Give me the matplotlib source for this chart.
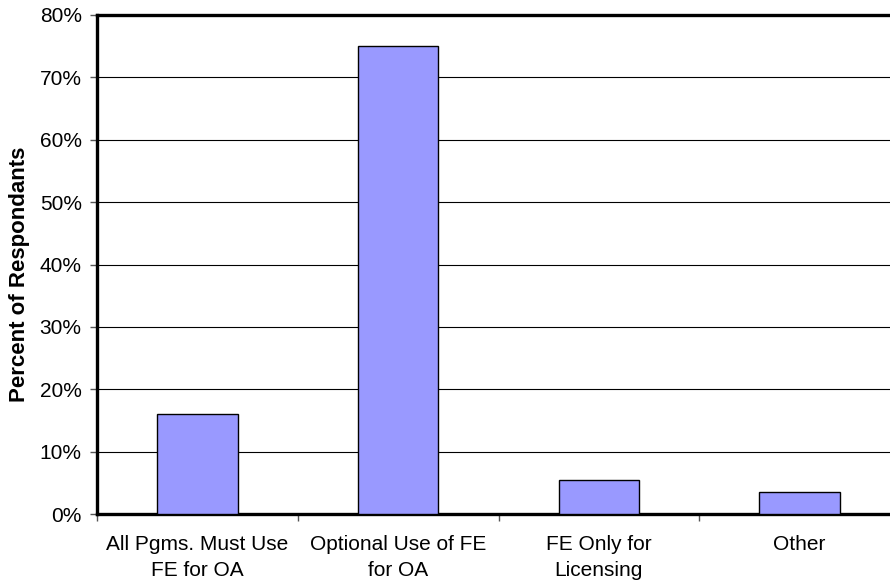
import matplotlib
matplotlib.use("Agg")
import matplotlib.pyplot as plt
from matplotlib.ticker import FuncFormatter, FixedLocator

categories = ["All Pgms. Must Use\nFE for OA", "Optional Use of FE\nfor OA",
              "FE Only for\nLicensing", "Other"]
values = [16.1, 75.0, 5.4, 3.6]
yticks = [0, 10, 20, 30, 40, 50, 60, 70, 80]

plt.rcParams['font.family'] = ['Liberation Sans', 'DejaVu Sans']

fig = plt.figure(figsize=(8.9, 5.83), dpi=100)
ax = fig.add_axes([97/890, (583-514)/583, 803/890, (514-15)/583])

x = list(range(len(categories)))
ax.bar(x, values, width=0.4, color='#9999FF', edgecolor='black', linewidth=1.0, zorder=3)

ax.set_xlim(-0.5, len(categories) - 0.5)
ax.set_ylim(0, 80)
ax.set_yticks(yticks)
ax.yaxis.set_major_formatter(FuncFormatter(lambda v, p: f"{int(v)}%"))
ax.grid(axis='y', color='black', linewidth=0.8, zorder=0)

ax.xaxis.set_major_locator(FixedLocator([i - 0.5 for i in range(len(categories) + 1)]))
ax.xaxis.set_minor_locator(FixedLocator(x))
ax.set_xticklabels([])
ax.set_xticklabels(categories, minor=True, linespacing=1.45)
ax.tick_params(axis='x', which='major', length=5, width=1, color='#555555', direction='out')
ax.tick_params(axis='x', which='minor', length=0, pad=15, labelsize=15)
ax.tick_params(axis='y', length=5, width=1, color='#555555', direction='out', labelsize=15, pad=6)

for s in ['left', 'top', 'bottom']:
    ax.spines[s].set_linewidth(2.4)
    ax.spines[s].set_color('black')
ax.spines['right'].set_visible(False)

fig.text(20/890, 1 - 274.5/583, "Percent of Respondants", fontsize=16,
         fontweight='bold', rotation=90, ha='center', va='center')

fig.savefig("out.png", dpi=100)
